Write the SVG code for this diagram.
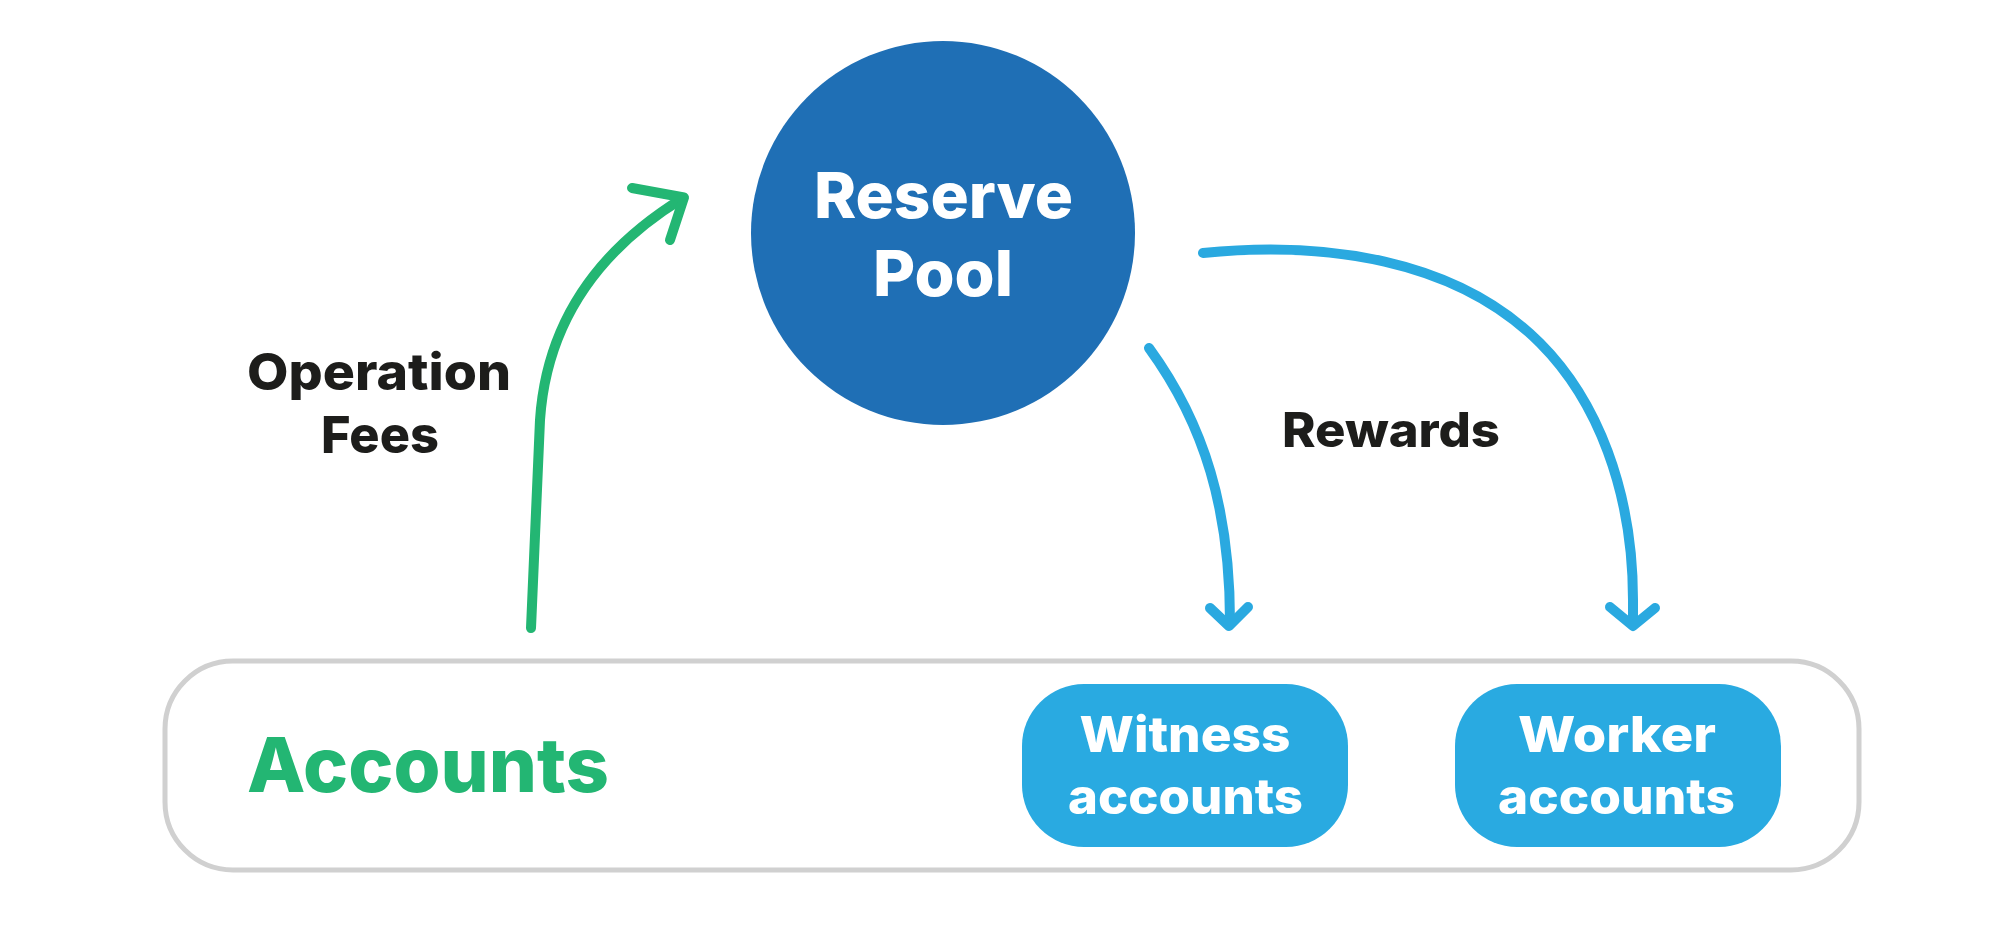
<svg xmlns="http://www.w3.org/2000/svg" width="1999" height="930" viewBox="0 0 1999 930">
<style>
.t{font-family:Inter,"Open Sans","Liberation Sans",sans-serif;font-weight:800;text-anchor:middle;font-variant-ligatures:none}
.w{fill:#ffffff}
.d{fill:#1d1d1b}
.g{stroke:#23b673;stroke-width:10;fill:none;stroke-linecap:round;stroke-linejoin:round}
.b{stroke:#2aa9e0;stroke-width:10;fill:none;stroke-linecap:round;stroke-linejoin:round}
.pill{fill:#29aae1}
</style>
<rect width="1999" height="930" fill="#ffffff"/>
<g id="accounts">
<rect x="165" y="661" width="1694" height="209" rx="68" ry="68" fill="#ffffff" stroke="#d0d0d0" stroke-width="5"/>
<text class="t" x="428" y="791.5" font-size="76" fill="#23b673" textLength="362" lengthAdjust="spacingAndGlyphs">Accounts</text>
</g>
<g id="reserve-pool">
<circle cx="943" cy="233" r="192" fill="#1f6fb5"/>
<text class="t w" x="943.5" y="217.5" font-size="63" textLength="259" lengthAdjust="spacingAndGlyphs">Reserve</text>
<text class="t w" x="943" y="295.5" font-size="63" textLength="140" lengthAdjust="spacingAndGlyphs">Pool</text>
</g>
<g id="witness-accounts">
<rect x="1022" y="684" width="326" height="163" rx="62" ry="62" class="pill"/>
<text class="t w" x="1185" y="751.5" font-size="50" textLength="211" lengthAdjust="spacingAndGlyphs">Witness</text>
<text class="t w" x="1185.5" y="814" font-size="50" textLength="235" lengthAdjust="spacingAndGlyphs">accounts</text>
</g>
<g id="worker-accounts">
<rect x="1455" y="684" width="326" height="163" rx="62" ry="62" class="pill"/>
<text class="t w" x="1617" y="751.5" font-size="50" textLength="198" lengthAdjust="spacingAndGlyphs">Worker</text>
<text class="t w" x="1616.5" y="814" font-size="50" textLength="237" lengthAdjust="spacingAndGlyphs">accounts</text>
</g>
<g id="labels">
<text class="t d" x="379" y="390" font-size="51" textLength="264" lengthAdjust="spacingAndGlyphs">Operation</text>
<text class="t d" x="380" y="452.5" font-size="51" textLength="118" lengthAdjust="spacingAndGlyphs">Fees</text>
<text class="t d" x="1391" y="446.5" font-size="48" textLength="218" lengthAdjust="spacingAndGlyphs">Rewards</text>
</g>
<g id="connectors">
<path class="g" d="M531,628 L540,420 C546,330 590,255 683,198"/>
<polyline class="g" points="632,188 684,197.5 670,240"/>
<path class="b" d="M1149,348 C1205,425 1230,510 1230,622"/>
<polyline class="b" points="1210,608 1229,626 1248,607"/>
<path class="b" d="M1203,253 C1323,241 1455,258 1540,343 C1596.6,399.6 1633,490 1633,600 L1633,622"/>
<polyline class="b" points="1610,607 1633,626 1655,608"/>
</g>
</svg>
